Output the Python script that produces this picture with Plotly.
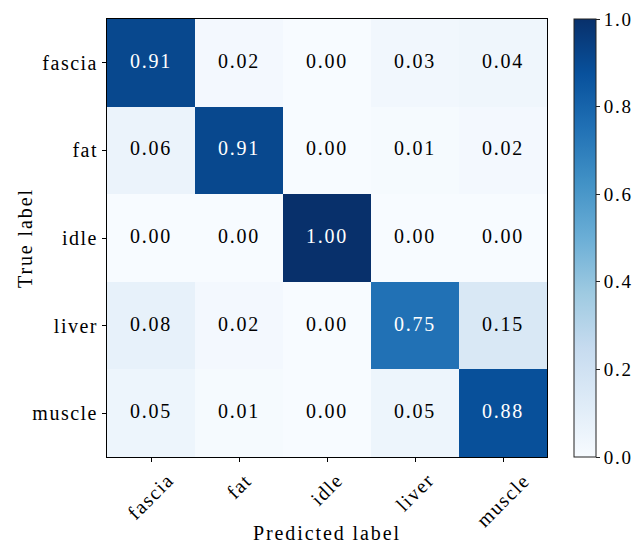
import plotly.graph_objects as go

classes = ["fascia", "fat", "idle", "liver", "muscle"]
matrix = [
    [0.91, 0.02, 0.00, 0.03, 0.04],
    [0.06, 0.91, 0.00, 0.01, 0.02],
    [0.00, 0.00, 1.00, 0.00, 0.00],
    [0.08, 0.02, 0.00, 0.75, 0.15],
    [0.05, 0.01, 0.00, 0.05, 0.88],
]
cbar_ticks = [0.0, 0.2, 0.4, 0.6, 0.8, 1.0]
x_title = "Predicted label"
y_title = "True label"

blues = [
    [0.000, "rgb(247,251,255)"],
    [0.125, "rgb(222,235,247)"],
    [0.250, "rgb(198,219,239)"],
    [0.375, "rgb(158,202,225)"],
    [0.500, "rgb(107,174,214)"],
    [0.625, "rgb(66,146,198)"],
    [0.750, "rgb(33,113,181)"],
    [0.875, "rgb(8,81,156)"],
    [1.000, "rgb(8,48,107)"],
]

FONT = "Liberation Serif, Times New Roman, serif"
TXT = dict(family=FONT, size=20, color="black")


def sp(s, px=1.7):
    # matplotlib-like loose letter spacing
    return f'<span style="letter-spacing:{px}px">{s}</span>'


fig = go.Figure()
fig.add_trace(go.Heatmap(
    z=matrix, x=classes, y=classes, zmin=0, zmax=1,
    colorscale=blues, hoverinfo="skip",
    colorbar=dict(
        x=1.0614, xanchor="left", y=0.5, yanchor="middle",
        len=1.0, lenmode="fraction", thickness=22, thicknessmode="pixels",
        outlinewidth=1, outlinecolor="#222",
        tickvals=cbar_ticks, ticktext=[sp(f"{t:.1f}") for t in cbar_ticks],
        ticks="outside", ticklen=4, tickwidth=1, tickcolor="#222",
        tickfont=dict(family=FONT, size=19, color="black"),
        xpad=0, ypad=0,
    ),
))

tx, ty, tt, tc = [], [], [], []
for i, row in enumerate(matrix):
    for j, v in enumerate(row):
        tx.append(classes[j]); ty.append(classes[i])
        tt.append(sp(f"{v:.2f}"))
        tc.append("white" if v > 0.5 else "black")
fig.add_trace(go.Scatter(
    x=tx, y=ty, mode="text", text=tt,
    textfont=dict(family=FONT, size=20, color=tc),
    hoverinfo="skip", showlegend=False,
))

axis_common = dict(
    showline=True, linecolor="black", linewidth=1, mirror=True,
    ticks="outside", ticklen=4, tickwidth=1, tickcolor="black",
    showgrid=False, zeroline=False,
    tickfont=TXT,
)
fig.update_xaxes(**axis_common, showticklabels=False,
                 range=[-0.5, 4.5], constrain="domain")
fig.update_yaxes(**axis_common, autorange=False, range=[4.5, -0.5],
                 tickmode="array", tickvals=classes,
                 ticktext=[sp(c, 1.5) for c in classes])

annotations = []
# rotated x tick labels, centered on each tick (matplotlib style)
for c in classes:
    annotations.append(dict(
        x=c, xref="x", y=0, yref="paper", text=sp(c, 1.5), showarrow=False,
        textangle=-45, xanchor="center", yanchor="top", yshift=-9,
        font=TXT,
    ))
annotations.append(dict(
    x=0.5, xref="paper", y=0, yref="paper", text=sp(x_title, 1.9), showarrow=False,
    xanchor="center", yanchor="middle", yshift=-76, font=TXT,
))
annotations.append(dict(
    x=0, xref="paper", y=0.5, yref="paper", text=sp(y_title, 1.9), showarrow=False,
    textangle=-90, xanchor="center", yanchor="middle", xshift=-82, font=TXT,
))

fig.update_layout(
    width=644, height=544,
    margin=dict(l=107, r=97, t=19, b=87, autoexpand=False),
    paper_bgcolor="white", plot_bgcolor="white",
    showlegend=False,
    annotations=annotations,
)

fig.write_html(
    "out.html",
    config={"displayModeBar": False},
    post_script="document.body.style.margin='0';document.body.style.overflow='hidden';",
)
